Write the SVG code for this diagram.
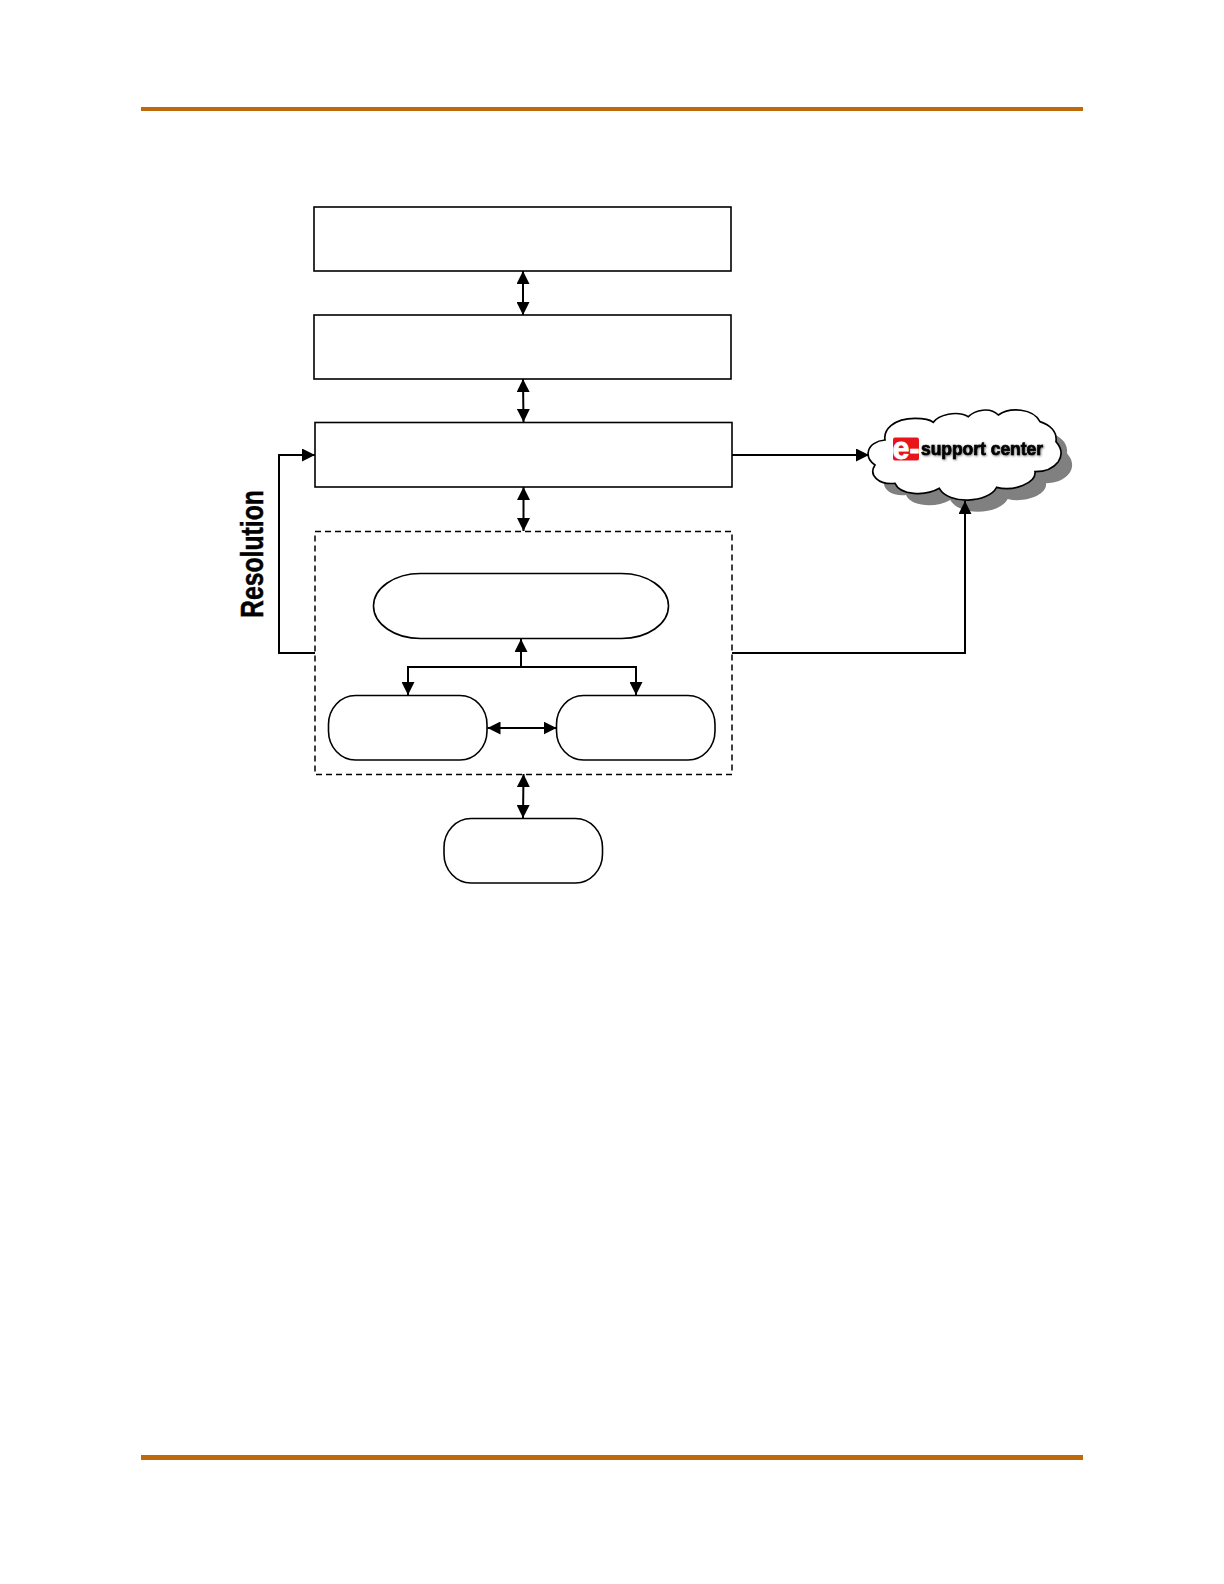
<svg xmlns="http://www.w3.org/2000/svg" width="1224" height="1584" viewBox="0 0 1224 1584">
<style>
.n{fill:#fff;stroke:#000;stroke-width:1.6}
.d{fill:none;stroke:#000;stroke-width:1.5;stroke-dasharray:6 4}
.c{fill:none;stroke:#000;stroke-width:2}
.b{fill:#bf6a0a}
.t{font-family:"Liberation Sans",Arial,sans-serif;font-weight:700}
</style>
<defs>
<marker id="a" markerUnits="userSpaceOnUse" markerWidth="14" markerHeight="13" refX="13" refY="6.500" orient="auto-start-reverse"><path d="M0 0L13 6.500L0 13Z" fill="#000"/></marker>
<filter id="s" x="-10%" y="-30%" width="125%" height="170%"><feDropShadow dx="0.8" dy="0.8" stdDeviation="0.8" flood-color="#000" flood-opacity="0.55"/></filter>
<path id="cl" d="M55 185C58 165 80 152 105 150C100 120 130 85 195 85C220 85 240 88 250 97C265 75 320 60 355 80C375 60 420 50 445 75C480 50 550 55 570 95C600 105 622 125 618 155C640 180 635 200 625 215C610 235 585 245 555 245C560 280 490 305 440 292C415 340 295 345 268 295C225 320 150 315 135 280C85 285 55 255 75 225C60 215 52 200 55 185Z"/>
</defs>
<g id="rules"><rect class="b" x="141" y="107" width="942" height="4"/><rect class="b" x="141" y="1455" width="942" height="5"/></g>
<g id="cloud">
<g transform="translate(850 390) scale(.3333)">
<use href="#cl" transform="translate(33 35)" fill="#808080"/>
<use href="#cl" fill="#fff" stroke="#000" stroke-width="5"/>
</g>
<rect x="893" y="437.500" width="26" height="23" rx="2" fill="#e8141c"/>
<text class="t" x="892.500" y="459" font-size="31" fill="#fff" stroke="#fff" stroke-width=".8" textLength="27" lengthAdjust="spacingAndGlyphs">e-</text>
<text class="t" x="921" y="454.500" font-size="17.500" fill="#000" stroke="#000" stroke-width=".7" textLength="122" lengthAdjust="spacingAndGlyphs" filter="url(#s)">support center</text>
</g>
<g id="box1"><rect class="n" x="314" y="207" width="417" height="64"/></g>
<g id="box2"><rect class="n" x="314" y="315" width="417" height="64"/></g>
<g id="box3"><rect class="n" x="315" y="422.500" width="417" height="64.500"/></g>
<g id="group"><rect class="d" x="315" y="531.500" width="417" height="243"/></g>
<g id="oval"><rect class="n" x="373.500" y="573.500" width="295" height="65" rx="47" ry="32.500"/></g>
<g id="pill-left"><rect class="n" x="328.500" y="695.500" width="158.500" height="64.500" rx="27" ry="29"/></g>
<g id="pill-right"><rect class="n" x="556.500" y="695.500" width="158.500" height="64.500" rx="27" ry="29"/></g>
<g id="pill-bottom"><rect class="n" x="444" y="818.500" width="158.500" height="64.500" rx="27" ry="29"/></g>
<g id="resolution"><text class="t" transform="translate(262.500 618) rotate(-90)" font-size="31" stroke="#000" stroke-width=".5" textLength="128" lengthAdjust="spacingAndGlyphs">Resolution</text></g>
<g id="connectors">
<path class="c" d="M523 271V315" marker-start="url(#a)" marker-end="url(#a)"/>
<path class="c" d="M523 379L523.500 422" marker-start="url(#a)" marker-end="url(#a)"/>
<path class="c" d="M523.500 487V531" marker-start="url(#a)" marker-end="url(#a)"/>
<path class="c" d="M523.500 774L523 818" marker-start="url(#a)" marker-end="url(#a)"/>
<path class="c" d="M315 653H279V455H315" marker-end="url(#a)"/>
<path class="c" d="M732 455H869" marker-end="url(#a)"/>
<path class="c" d="M732 653H965V501" marker-end="url(#a)"/>
<path class="c" d="M521 667V639" marker-end="url(#a)"/>
<path class="c" d="M408 695V667H636V695" marker-start="url(#a)" marker-end="url(#a)"/>
<path class="c" d="M487.500 728H556.500" marker-start="url(#a)" marker-end="url(#a)"/>
</g>
</svg>
